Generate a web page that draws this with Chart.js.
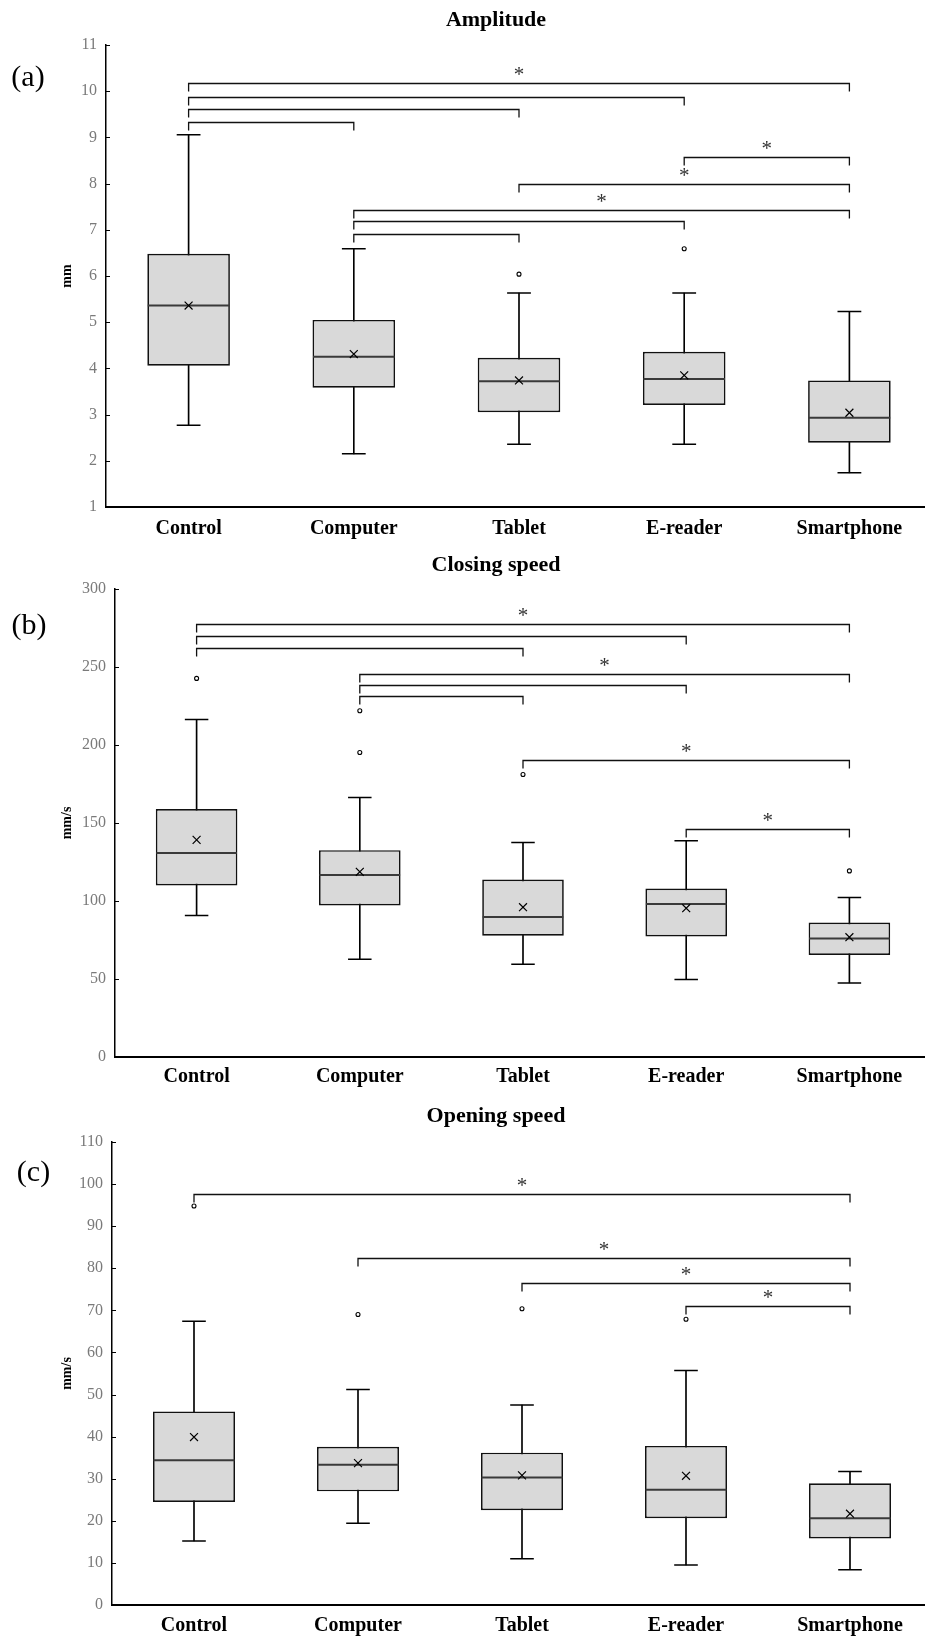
<!DOCTYPE html>
<html>
<head>
<meta charset="utf-8">
<script src="https://cdn.jsdelivr.net/npm/chart.js@4.4.1/dist/chart.umd.min.js"></script>
<style>
  html, body { margin: 0; padding: 0; background: #fff; overflow: hidden; width: 925px; height: 1638px; }
  .panel { position: absolute; left: 0; }
  canvas { display: block; }
</style>
</head>
<body>
<div class="panel" style="top:0px"><canvas id="amplitude" width="992" height="545"></canvas></div>
<div class="panel" style="top:545px"><canvas id="closing" width="992" height="547"></canvas></div>
<div class="panel" style="top:1092px"><canvas id="opening" width="992" height="546"></canvas></div>
<script>
const categories = ['Control', 'Computer', 'Tablet', 'E-reader', 'Smartphone'];

// (a) Amplitude (mm)
const ampTicks    = [1, 2, 3, 4, 5, 6, 7, 8, 9, 10, 11];
const ampLow      = [2.77, 2.15, 2.36, 2.36, 1.74];
const ampQ1       = [4.06, 3.58, 3.05, 3.21, 2.39];
const ampMedian   = [5.36, 4.25, 3.72, 3.77, 2.93];
const ampQ3       = [6.48, 5.05, 4.23, 4.36, 3.74];
const ampHigh     = [9.06, 6.59, 5.63, 5.63, 5.23];
const ampMean     = [5.36, 4.31, 3.74, 3.85, 3.04];
const ampOutliers = [[2, 6.04], [3, 6.59]];
// [from group, to group, bracket height, significant]
const ampBrackets = [
  [0, 4, 10.17, true], [0, 3, 9.88, false], [0, 2, 9.61, false], [0, 1, 9.33, false],
  [3, 4, 8.57, true], [2, 4, 7.99, true], [1, 4, 7.42, true], [1, 3, 7.18, false], [1, 2, 6.90, false]
];

// (b) Closing speed (mm/s)
const closeTicks    = [0, 50, 100, 150, 200, 250, 300];
const closeLow      = [90.7, 62.7, 59.5, 49.6, 47.5];
const closeQ1       = [109.9, 97.1, 77.8, 77.2, 65.4];
const closeMedian   = [130.7, 116.6, 89.8, 98.0, 75.9];
const closeQ3       = [158.9, 132.6, 113.8, 108.0, 86.2];
const closeHigh     = [216.4, 166.4, 137.5, 138.6, 102.2];
const closeMean     = [139.2, 118.7, 96.0, 95.4, 76.8];
const closeOutliers = [[0, 242.7], [1, 222.0], [1, 195.2], [2, 181.1], [4, 119.3]];
const closeBrackets = [
  [0, 4, 277.6, true], [0, 3, 270.1, false], [0, 2, 262.4, false],
  [1, 4, 245.7, true], [1, 3, 238.2, false], [1, 2, 231.2, false],
  [2, 4, 190.3, true], [3, 4, 146.3, true]
];

// (c) Opening speed (mm/s)
const openTicks    = [0, 10, 20, 30, 40, 50, 60, 70, 80, 90, 100, 110];
const openLow      = [15.2, 19.4, 11.0, 9.5, 8.4];
const openQ1       = [24.5, 27.0, 22.5, 20.6, 15.8];
const openMedian   = [34.4, 33.3, 30.3, 27.4, 20.6];
const openQ3       = [46.0, 37.6, 36.2, 37.8, 28.9];
const openHigh     = [67.4, 51.2, 47.5, 55.7, 31.7];
const openMean     = [39.9, 33.7, 30.8, 30.7, 21.7];
const openOutliers = [[0, 94.8], [1, 69.0], [2, 70.4], [3, 67.9]];
const openBrackets = [
  [0, 4, 97.6, true], [1, 4, 82.5, true], [2, 4, 76.6, true], [3, 4, 71.0, true]
];

const SERIF = '"Liberation Serif", "Times New Roman", serif';

// Titles, panel letters, inward tick marks and significance brackets
const decorations = {
  id: 'decorations',
  afterDatasetsDraw(chart, args, opts) {
    const { ctx } = chart;
    const xs = chart.scales.x, ys = chart.scales.y;
    ctx.save();

    ctx.strokeStyle = '#000';
    ctx.lineWidth = 1;
    ys.ticks.forEach(t => {
      const py = Math.round(ys.getPixelForValue(t.value)) + 0.5;
      ctx.beginPath();
      ctx.moveTo(xs.left, py);
      ctx.lineTo(xs.left + 4, py);
      ctx.stroke();
    });

    ctx.lineWidth = 1.3;
    ctx.strokeStyle = '#111';
    ctx.fillStyle = '#333';
    ctx.font = '21px ' + SERIF;
    ctx.textAlign = 'center';
    ctx.textBaseline = 'middle';
    opts.brackets.forEach(([a, b, v, star]) => {
      const x1 = xs.getPixelForValue(a);
      const x2 = xs.getPixelForValue(b);
      const py = Math.round(ys.getPixelForValue(v)) + 0.5;
      ctx.beginPath();
      ctx.moveTo(x1, py + 8);
      ctx.lineTo(x1, py);
      ctx.lineTo(x2, py);
      ctx.lineTo(x2, py + 8);
      ctx.stroke();
      if (star) ctx.fillText('*', (x1 + x2) / 2, py - 8);
    });

    ctx.fillStyle = '#000';
    ctx.font = 'bold 22px ' + SERIF;
    ctx.fillText(opts.title, 496, opts.titleY);

    ctx.font = '30px ' + SERIF;
    ctx.fillText(opts.letter, opts.letterX, opts.letterY);
    ctx.restore();
  }
};

function boxPanel(id, d, lay) {
  const catWidth = c => c.chart.scales.x ? c.chart.scales.x.width / categories.length : 160;
  new Chart(document.getElementById(id), {
    data: {
      labels: categories,
      datasets: [
        { // whiskers
          type: 'bar', data: d.low.map((v, i) => [v, d.high[i]]),
          backgroundColor: '#000', barThickness: 1, grouped: false, order: 7
        },
        { // interquartile boxes
          type: 'bar', data: d.q1.map((v, i) => [v, d.q3[i]]),
          backgroundColor: '#d9d9d9', borderColor: '#111', borderWidth: 1.7,
          borderSkipped: false, barPercentage: 0.5, categoryPercentage: 1, grouped: false, order: 6
        },
        { // upper caps
          type: 'line', data: d.high, showLine: false, pointStyle: 'line',
          pointRadius: c => catWidth(c) * 0.072, pointBorderWidth: 1.5, pointBorderColor: '#000', order: 5
        },
        { // lower caps
          type: 'line', data: d.low, showLine: false, pointStyle: 'line',
          pointRadius: c => catWidth(c) * 0.072, pointBorderWidth: 1.5, pointBorderColor: '#000', order: 4
        },
        { // medians
          type: 'line', data: d.median, showLine: false, pointStyle: 'line',
          pointRadius: c => catWidth(c) * 0.25 - 0.5, pointBorderWidth: 2, pointBorderColor: '#3a3a3a', order: 3
        },
        { // means
          type: 'line', data: d.mean, showLine: false, pointStyle: 'crossRot',
          pointRadius: 5.6, pointBorderWidth: 1.2, pointBorderColor: '#000', order: 2
        },
        { // outliers
          type: 'line', data: d.outliers.map(([i, v]) => ({ x: categories[i], y: v })), showLine: false,
          pointStyle: 'circle', pointRadius: 2, pointBorderWidth: 1.1,
          pointBackgroundColor: '#fff', pointBorderColor: '#000', order: 1
        }
      ]
    },
    options: {
      responsive: false,
      devicePixelRatio: 1,
      animation: false,
      events: [],
      layout: { padding: { top: lay.top, left: 0, right: lay.right, bottom: 0 } },
      plugins: {
        legend: { display: false },
        tooltip: { enabled: false },
        decorations: {
          brackets: d.brackets, title: d.title, titleY: lay.titleY,
          letter: d.letter, letterX: lay.letterX, letterY: lay.letterY
        }
      },
      scales: {
        x: {
          type: 'category', offset: true,
          grid: { display: true, drawOnChartArea: false, drawTicks: false },
          border: { display: true, color: '#000', width: 2 },
          ticks: { font: { family: SERIF, size: 20, weight: 'bold' }, color: '#000', padding: lay.xPad, maxRotation: 0, autoSkip: false },
          afterFit: s => { s.height = lay.xHeight; }
        },
        y: {
          min: d.ticks[0], max: d.ticks[d.ticks.length - 1],
          afterBuildTicks: s => { s.ticks = d.ticks.map(v => ({ value: v })); },
          grid: { display: true, drawOnChartArea: false, drawTicks: false },
          border: { display: true, color: '#000', width: 1.5 },
          ticks: { font: { family: SERIF, size: 16 }, color: '#7a7a7a', padding: 9 },
          title: { display: true, text: d.unit, font: { family: SERIF, size: 14, weight: 'bold' }, color: '#000', padding: { top: 59, bottom: 0 } },
          afterFit: s => { s.width = lay.axisX; }
        }
      }
    },
    plugins: [decorations]
  });
}

boxPanel('amplitude', {
  title: 'Amplitude', unit: 'mm', letter: '(a)', ticks: ampTicks,
  low: ampLow, q1: ampQ1, median: ampMedian, q3: ampQ3, high: ampHigh, mean: ampMean,
  outliers: ampOutliers, brackets: ampBrackets
}, { top: 45, right: 60, axisX: 106, xHeight: 38, xPad: 10, titleY: 20, letterX: 28, letterY: 78 });

boxPanel('closing', {
  title: 'Closing speed', unit: 'mm/s', letter: '(b)', ticks: closeTicks,
  low: closeLow, q1: closeQ1, median: closeMedian, q3: closeQ3, high: closeHigh, mean: closeMean,
  outliers: closeOutliers, brackets: closeBrackets
}, { top: 44, right: 61, axisX: 115, xHeight: 35, xPad: 7.5, titleY: 20.3, letterX: 29, letterY: 81 });

boxPanel('opening', {
  title: 'Opening speed', unit: 'mm/s', letter: '(c)', ticks: openTicks,
  low: openLow, q1: openQ1, median: openMedian, q3: openQ3, high: openHigh, mean: openMean,
  outliers: openOutliers, brackets: openBrackets
}, { top: 50, right: 60, axisX: 112, xHeight: 33, xPad: 8.7, titleY: 24.7, letterX: 33.5, letterY: 81 });
</script>
</body>
</html>
